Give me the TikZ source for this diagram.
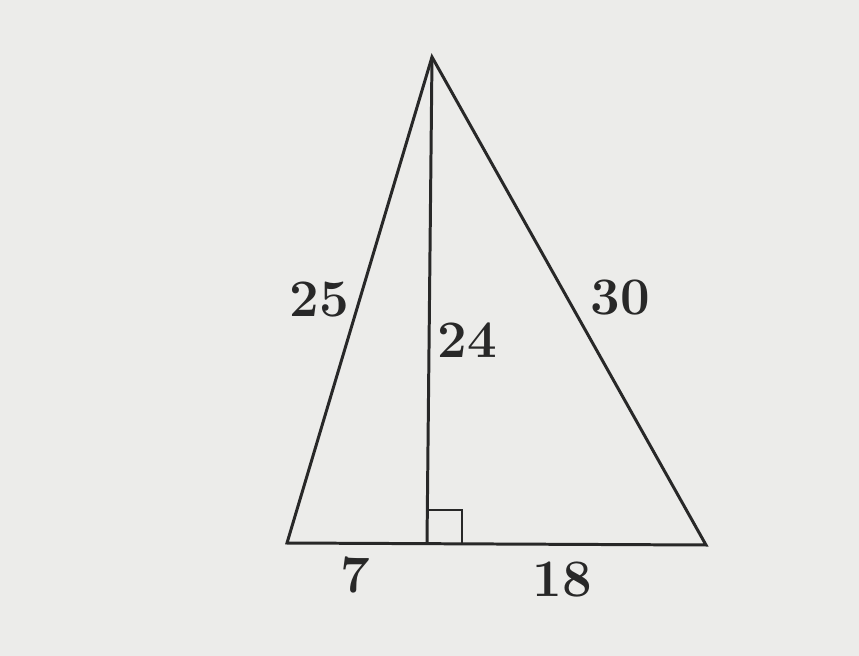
\documentclass[tikz,border=0pt]{standalone}
\usepackage{tikz}
\usetikzlibrary{positioning,calc}
\definecolor{paper}{RGB}{236,236,234}
\definecolor{ink}{RGB}{40,40,40}

\begin{document}
\begin{tikzpicture}[x=0.02cm, y=-0.02cm,
  side/.style={draw=ink, line width=1.7pt, line join=miter},
  lbl/.style={text=ink, font=\fontsize{30}{36}\selectfont\bfseries, inner sep=0pt}]
\fill[paper] (0,0) rectangle (859,656);
\useasboundingbox (0,0) rectangle (859,656);
% vertices and foot of the altitude
\coordinate (top) at (432,57);
\coordinate (left) at (287,543);
\coordinate (right) at (706,545);
\coordinate (foot) at (427,543);
\draw[side] (top) -- (left) -- (right) -- cycle;
\draw[side] (top) -- (foot);
\draw[side, line width=1.4pt] ($(foot)+(0,-33)$) -- ++(35,0) -- ($(foot)+(35,0.5)$);
% lengths
\node[lbl] (l25) at (319,300) {25};
\node[lbl] (l24) at (467,340) {24};
\node[lbl] (l30) at (620,298) {30};
\node[lbl] (l7) at (355,575) {7};
\node[lbl] (l18) at (562,580) {18};
\end{tikzpicture}
\end{document}
